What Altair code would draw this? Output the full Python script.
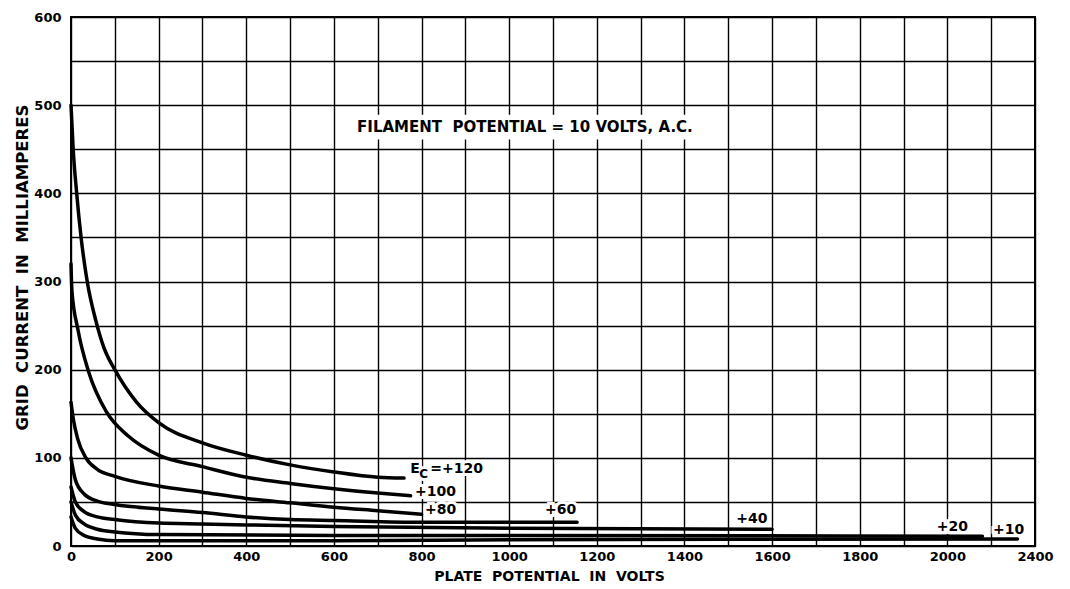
import altair as alt
import pandas as pd

# ---- data (x in plate volts, y in grid milliamperes) ----
ec120_x = [0, 5, 13, 23, 37, 57, 75, 100, 150, 200, 300, 400, 500, 600, 700, 760]
ec120_y = [500, 450, 400, 350, 300, 255, 225, 200, 163, 140, 117, 103, 92, 84, 78, 77]

ec100_x = [0, 2, 16, 40, 81, 130, 200, 300, 400, 500, 600, 700, 775]
ec100_y = [320, 290, 245, 198, 152, 125, 103, 90, 78, 71, 65, 60, 57]

ec80_x = [0, 5, 15, 34, 60, 100, 200, 300, 400, 500, 600, 700, 800]
ec80_y = [163, 145, 122, 100, 87, 79, 68, 61, 54, 49, 44, 40, 36]

ec60_x = [0, 10, 30, 60, 100, 200, 300, 400, 500, 600, 800, 1000, 1155]
ec60_y = [100, 75, 59, 51, 47, 42, 38, 33, 30, 29, 27, 27, 27]

ec40_x = [0, 10, 30, 60, 100, 200, 300, 600, 1000, 1600]
ec40_y = [67, 50, 39, 33, 30, 26, 25, 22, 20, 19]

ec20_x = [0, 10, 30, 60, 100, 200, 600, 1000, 2080]
ec20_y = [50, 35, 25, 19, 16, 13, 12, 12, 11]

ec10_x = [0, 10, 30, 60, 100, 200, 600, 1000, 2160]
ec10_y = [33, 20, 12, 8, 6, 6, 6, 7, 8]

series = {
    "+120": (ec120_x, ec120_y),
    "+100": (ec100_x, ec100_y),
    "+80": (ec80_x, ec80_y),
    "+60": (ec60_x, ec60_y),
    "+40": (ec40_x, ec40_y),
    "+20": (ec20_x, ec20_y),
    "+10": (ec10_x, ec10_y),
}

# curve labels
label_text = ["+100", "+80", "+60", "+40", "+20", "+10"]
label_x = [785, 808, 1082, 1518, 1976, 2104]
label_y = [61, 41, 41, 31, 22, 18]

# Ec = +120 label pieces
ec_text = ["E", "=+120"]
ec_x = [774, 820]
ec_y = [87, 87]
sub_text = ["C"]
sub_x = [795]
sub_y = [82]

NB = "\u00a0"
note_text = [f"FILAMENT{NB} POTENTIAL = 10 VOLTS, A.C."]
note_x = [1036]
note_y = [475]
note_box_x = [648]
note_box_x2 = [1431]
note_box_y = [461]
note_box_y2 = [489]

# axes
x_grid_values = [0, 100, 200, 300, 400, 500, 600, 700, 800, 900, 1000, 1100,
                 1200, 1300, 1400, 1500, 1600, 1700, 1800, 1900, 2000, 2100, 2200]
x_label_values = [0, 200, 400, 600, 800, 1000, 1200, 1400, 1600, 1800, 2000, 2200]
x_label_texts = ["0", "200", "400", "600", "800", "1000", "1200", "1400",
                 "1600", "1800", "2000", "2400"]
y_grid_values = [0, 50, 100, 150, 200, 250, 300, 350, 400, 450, 500, 550, 600]
y_label_values = [0, 100, 200, 300, 400, 500, 600]
y_label_texts = ["0", "100", "200", "300", "400", "500", "600"]

x_title = f"PLATE{NB} POTENTIAL{NB} IN{NB} VOLTS"
y_title = f"GRID{NB} CURRENT{NB} IN{NB} MILLIAMPERES"


def label_expr(values, texts):
    expr = "''"
    for v, t in reversed(list(zip(values, texts))):
        expr = f"datum.value == {v} ? '{t}' : ({expr})"
    return expr


rows = []
for name, (xs, ys) in series.items():
    for i, (a, b) in enumerate(zip(xs, ys)):
        rows.append({"ec": name, "x": a, "y": b, "o": i})
curves = pd.DataFrame(rows)

FONT = "DejaVu Sans"

xscale = alt.Scale(domain=[0, 2200], nice=False, zero=False)
yscale = alt.Scale(domain=[0, 600], nice=False)

xaxis = alt.Axis(
    values=x_grid_values,
    labelExpr=label_expr(x_label_values, x_label_texts),
    title=x_title,
    grid=True, ticks=False, domain=False,
    labelFont=FONT, labelFontSize=13, labelFontWeight="bold", labelColor="black",
    labelPadding=4, labelFlush=False, labelOverlap=False,
    titleFont=FONT, titleFontSize=14, titleFontWeight="bold", titleColor="black",
    titleX=478, titleY=23, titleBaseline="top",
)
yaxis = alt.Axis(
    values=y_grid_values,
    labelExpr=label_expr(y_label_values, y_label_texts),
    title=y_title,
    grid=True, ticks=False, domain=False,
    labelFont=FONT, labelFontSize=13, labelFontWeight="bold", labelColor="black",
    labelPadding=10, labelFlush=False, labelOverlap=False,
    titleFont=FONT, titleFontSize=16.5, titleFontWeight="bold", titleColor="black",
    titleX=-41, titleY=250, titleAngle=-90, titleBaseline="bottom",
)

lines = alt.Chart(curves).mark_line(
    color="black", strokeWidth=3.5, interpolate="monotone", strokeCap="round"
).encode(
    x=alt.X("x:Q", scale=xscale, axis=xaxis),
    y=alt.Y("y:Q", scale=yscale, axis=yaxis),
    detail="ec:N",
    order="o:Q",
)

note_box = alt.Chart(pd.DataFrame({"x": note_box_x, "x2": note_box_x2,
                                   "y": note_box_y, "y2": note_box_y2})).mark_rect(
    color="white"
).encode(x="x:Q", x2="x2:Q", y="y:Q", y2="y2:Q")

note = alt.Chart(pd.DataFrame({"t": note_text, "x": note_x, "y": note_y})).mark_text(
    font=FONT, fontSize=15, fontWeight="bold", color="black", align="center", baseline="middle"
).encode(x="x:Q", y="y:Q", text="t:N")


def text_layer(texts, xs, ys, size, halo):
    df = pd.DataFrame({"t": texts, "x": xs, "y": ys})
    base = alt.Chart(df)
    kw = dict(font=FONT, fontSize=size, fontWeight="bold", align="left", baseline="middle")
    if halo:
        return base.mark_text(color="white", stroke="white", strokeWidth=6, **kw).encode(
            x="x:Q", y="y:Q", text="t:N")
    return base.mark_text(color="black", **kw).encode(x="x:Q", y="y:Q", text="t:N")


halos = [
    text_layer(label_text, label_x, label_y, 14, True),
    text_layer(ec_text, ec_x, ec_y, 14, True),
    text_layer(sub_text, sub_x, sub_y, 12, True),
]
texts = [
    text_layer(label_text, label_x, label_y, 14, False),
    text_layer(ec_text, ec_x, ec_y, 14, False),
    text_layer(sub_text, sub_x, sub_y, 12, False),
]

chart = alt.layer(note_box, *halos, lines, note, *texts).properties(
    width=964, height=529,
    autosize=alt.AutoSizeParams(type="none"),
    padding={"left": 63, "top": 9, "right": 27, "bottom": 42},
    background="white",
).configure_view(
    stroke="black", strokeWidth=2
).configure_axis(
    gridColor="black", gridWidth=1.4, gridOpacity=1
)

chart.save("out.html", embed_options={"renderer": "svg", "actions": False})
